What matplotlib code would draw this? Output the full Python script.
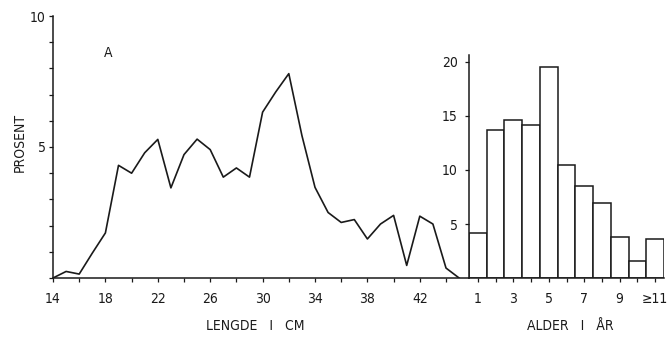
import matplotlib
matplotlib.use("Agg")
import matplotlib.pyplot as plt

# ---- data ----
length_cm = list(range(14, 46))
length_pct = [0.0, 0.25, 0.15, 0.95, 1.72, 4.3, 4.0, 4.78, 5.29, 3.44,
              4.71, 5.3, 4.9, 3.85, 4.2, 3.85, 6.33, 7.1, 7.8, 5.44,
              3.46, 2.5, 2.12, 2.23, 1.49, 2.06, 2.39, 0.48, 2.36, 2.06,
              0.38, 0.0]
len_tick_labels = [14, 18, 22, 26, 30, 34, 38, 42]

age_pos = list(range(1, 12))
age_pct = [4.2, 13.7, 14.6, 14.2, 19.5, 10.5, 8.5, 6.9, 3.8, 1.6, 3.6]
age_tick_pos = [1, 3, 5, 7, 9, 11]
age_tick_labels = ["1", "3", "5", "7", "9", "≥11"]

# ---- font ----
plt.rcParams['font.family'] = ['DejaVu Sans']
plt.rcParams['font.stretch'] = 'condensed'
FS = 10
INK = "#1a1a1a"

W, H = 671, 338
fig = plt.figure(figsize=(W / 100, H / 100), dpi=100)
fig.patch.set_facecolor("white")

base = 278
def fr(x0, x1, top):
    return [x0 / W, (H - base) / H, (x1 - x0) / W, (base - top) / H]

# left chart
ax = fig.add_axes(fr(53, 469, 16))
ax.plot(length_cm, length_pct, color=INK, lw=1.2)
ax.set_xlim(14, 14 + 416 / 13.1)
ax.set_ylim(0, 10)
for s in ["top", "right"]:
    ax.spines[s].set_visible(False)
for s in ["left", "bottom"]:
    ax.spines[s].set_linewidth(1.1)
    ax.spines[s].set_color(INK)
xt = list(range(14, 46, 2))
ax.set_xticks(xt)
ax.set_xticklabels([str(v) if v in len_tick_labels else "" for v in xt])
ax.set_yticks(range(0, 11))
ax.set_yticklabels(["10" if v == 10 else ("5" if v == 5 else "") for v in range(0, 11)])
ax.tick_params(axis="x", direction="out", length=3, width=0.9, pad=7, labelsize=FS, colors=INK)
ax.tick_params(axis="y", direction="out", length=3, width=0.9, pad=2, labelsize=FS, colors=INK)
ax.set_facecolor("none")
fig.text(108 / W, 1 - 53 / H, "A", fontsize=FS, ha="center", va="center", color=INK)

# right chart
ax2 = fig.add_axes(fr(469, 664, 55))
ax2.bar(age_pos, age_pct, width=1.0, facecolor="white", edgecolor=INK, lw=1.1)
ax2.set_xlim(0.5, 11.5)
ax2.set_ylim(0, 223 / 10.8)
for s in ["top", "right"]:
    ax2.spines[s].set_visible(False)
for s in ["left", "bottom"]:
    ax2.spines[s].set_linewidth(1.1)
    ax2.spines[s].set_color(INK)
ax2.set_xticks(age_pos)
ax2.set_xticklabels([age_tick_labels[age_tick_pos.index(p)] if p in age_tick_pos else ""
                     for p in age_pos])
ax2.set_yticks([5, 10, 15, 20])
ax2.set_yticklabels(["5", "10", "15", "20"])
ax2.tick_params(axis="x", direction="out", length=3, width=0.9, pad=7, labelsize=FS, colors=INK)
ax2.tick_params(axis="y", direction="out", length=3, width=0.9, pad=5, labelsize=FS, colors=INK)
ax2.set_facecolor("none")

# axis titles
fig.text(20 / W, 1 - 142 / H, "PROSENT", rotation=90, ha="center", va="center", fontsize=FS, color=INK)
fig.text(255 / W, 1 - 326 / H, "LENGDE   I   CM", ha="center", va="center", fontsize=FS, color=INK)
fig.text(570 / W, 1 - 326 / H, "ALDER   I   ÅR", ha="center", va="center", fontsize=FS, color=INK)

fig.savefig("out.png", dpi=100, facecolor="white")
